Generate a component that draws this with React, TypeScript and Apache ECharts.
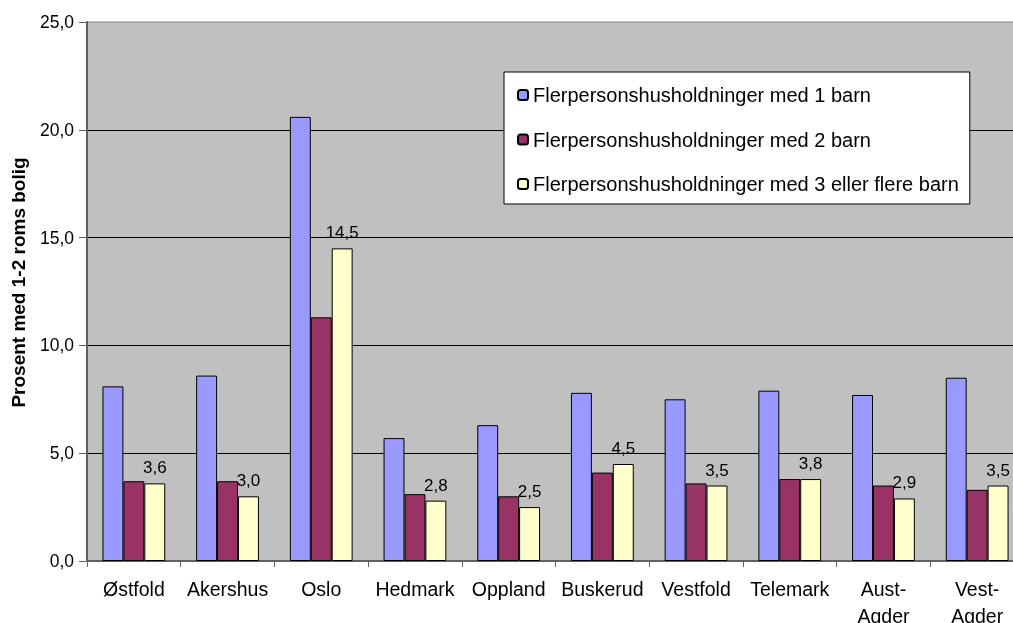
import React, { useEffect, useRef } from "react";
import * as echarts from "echarts";

const categories = ["Østfold", "Akershus", "Oslo", "Hedmark", "Oppland", "Buskerud", "Vestfold", "Telemark", "Aust-\nAgder", "Vest-\nAgder"];
const seriesNames = [
  "Flerpersonshusholdninger med 1 barn",
  "Flerpersonshusholdninger med 2 barn",
  "Flerpersonshusholdninger med 3 eller flere barn",
];
const oneChild = [8.1, 8.6, 20.6, 5.7, 6.3, 7.8, 7.5, 7.9, 7.7, 8.5];
const twoChildren = [3.7, 3.7, 11.3, 3.1, 3.0, 4.1, 3.6, 3.8, 3.5, 3.3];
const threePlus = [3.6, 3.0, 14.5, 2.8, 2.5, 4.5, 3.5, 3.8, 2.9, 3.5];
const yTicks = [0, 5, 10, 15, 20, 25];
const colors = ["#9999FF", "#993366", "#FFFFCC"];

const fmt = (v: number) => v.toFixed(1).replace(".", ",");
const FONT = "'Liberation Sans', Arial, sans-serif";

export default function App() {
  const ref = useRef<HTMLDivElement>(null);
  useEffect(() => {
    if (!ref.current) return;
    const chart = echarts.init(ref.current, null, { renderer: "svg" });
    const data = [oneChild, twoChildren, threePlus];
    chart.setOption({
      animation: false,
      textStyle: { fontFamily: FONT },
      grid: {
        left: 87,
        top: 22,
        bottom: 62,
        right: -11,
        containLabel: false,
        outerBoundsMode: "none",
        show: true,
        backgroundColor: "#C0C0C0",
        borderColor: "#808080",
        borderWidth: 1,
      },
      legend: {
        orient: "vertical",
        left: 504,
        top: 72,
        itemWidth: 10,
        itemHeight: 10,
        itemGap: 24.5,
        padding: [13, 11, 10, 13],
        backgroundColor: "#FFFFFF",
        borderColor: "#000000",
        borderWidth: 1,
        textStyle: { fontSize: 20, color: "#000", fontFamily: FONT, lineHeight: 18 },
        data: seriesNames,
      },
      xAxis: {
        type: "category",
        data: categories,
        axisLine: { lineStyle: { color: "#606060", width: 2 } },
        axisTick: { show: true, length: 6, lineStyle: { color: "#606060", width: 1 } },
        axisLabel: { fontSize: 19.5, color: "#000", margin: 14, lineHeight: 27, fontFamily: FONT, interval: 0 },
      },
      yAxis: {
        type: "value",
        min: 0,
        max: 25,
        interval: 5,
        name: "Prosent med 1-2 roms bolig",
        nameLocation: "middle",
        nameGap: 59,
        nameTextStyle: { fontSize: 19, fontWeight: "bold", color: "#000", fontFamily: FONT, padding: [0, 0, 0, 18] },
        axisLine: { show: true, lineStyle: { color: "#606060", width: 2 } },
        axisTick: { show: true, length: 8, lineStyle: { color: "#606060", width: 1 } },
        axisLabel: {
          fontSize: 17.5,
          color: "#000",
          margin: 13,
          fontFamily: FONT,
          formatter: (v: number) => (yTicks.includes(v) ? fmt(v) : ""),
        },
        splitLine: { show: true, showMaxLine: false, lineStyle: { color: "#000", width: 1 } },
      },
      series: seriesNames.map((name, i) => ({
        name,
        type: "bar",
        data: data[i],
        barGap: "0%",
        barCategoryGap: "33%",
        itemStyle: { color: colors[i], borderColor: "#000", borderWidth: 1 },
        label:
          i === 2
            ? {
                show: true,
                position: "top",
                distance: 7,
                fontSize: 17,
                color: "#000",
                fontFamily: FONT,
                formatter: (p: any) => fmt(p.value),
              }
            : { show: false },
      })),
    });
    return () => chart.dispose();
  }, []);
  return <div ref={ref} style={{ position: "fixed", left: 0, top: 0, width: 1013, height: 623 }} />;
}
